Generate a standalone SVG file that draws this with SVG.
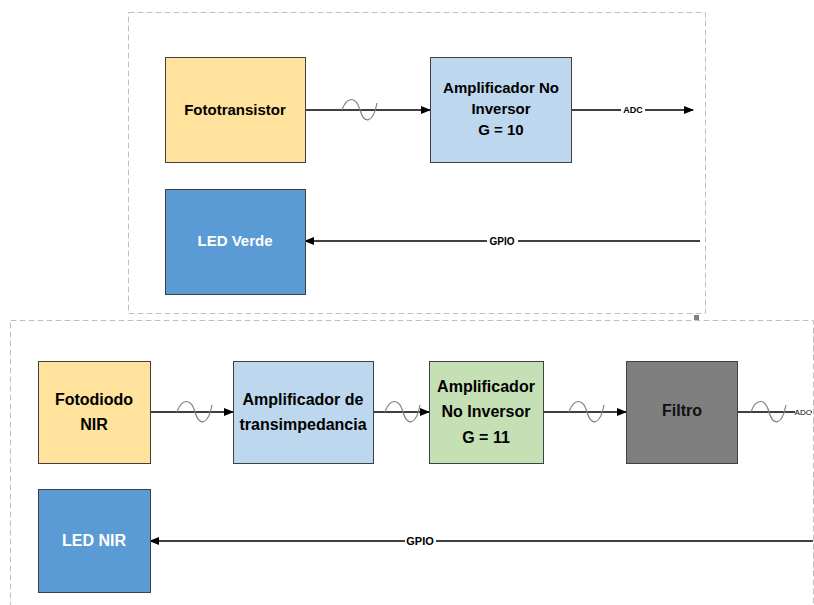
<svg xmlns="http://www.w3.org/2000/svg" width="814" height="605" viewBox="0 0 814 605">
<defs>
<marker id="ah" markerWidth="10" markerHeight="8" refX="9" refY="4" orient="auto" markerUnits="userSpaceOnUse">
<path d="M0,0 L10,4 L0,8 Z" fill="#000"/>
</marker>
<style>
.box{stroke:#404040;stroke-width:1}
.lbl{font-family:"Liberation Sans",Arial,sans-serif;font-weight:bold;text-anchor:middle}
.wire{stroke:#000;stroke-width:1.3;fill:none}
.sine{stroke:#7f7f7f;stroke-width:1.2;fill:none}
.frame{fill:none;stroke:#c0c0c0;stroke-width:1;stroke-dasharray:6 3}
.tag{font-family:"Liberation Sans",Arial,sans-serif;text-anchor:middle}
</style>
</defs>
<rect width="814" height="605" fill="#fff"/>
<rect class="frame" x="128.5" y="12.5" width="577" height="301"/>
<rect class="frame" x="10.5" y="320.5" width="803" height="290"/>
<rect x="694" y="315" width="5" height="5" fill="#808080"/>

<g id="connectors">
<line class="wire" x1="305" y1="110" x2="430" y2="110" marker-end="url(#ah)"/>
<path class="sine" d="M342,110 C347,96 356,96 360,110 C364,124 373,124 377,103"/>
<line class="wire" x1="571" y1="110" x2="693" y2="110" marker-end="url(#ah)"/>
<rect x="621" y="104" width="24" height="11" fill="#fff"/>
<text class="tag" x="633" y="113" font-size="9" font-weight="bold">ADC</text>
<line class="wire" x1="700" y1="241" x2="305" y2="241" marker-end="url(#ah)"/>
<rect x="487" y="235" width="31" height="12" fill="#fff"/>
<text class="tag" x="502" y="245" font-size="10" font-weight="bold">GPIO</text>

<line class="wire" x1="150" y1="412" x2="233" y2="412" marker-end="url(#ah)"/>
<path class="sine" d="M177,412 C182,398 191,398 195,412 C199,426 208,426 212,405"/>
<line class="wire" x1="373" y1="412" x2="429" y2="412" marker-end="url(#ah)"/>
<path class="sine" d="M385,412 C390,398 399,398 403,412 C407,426 416,426 420,405"/>
<line class="wire" x1="543" y1="412" x2="626" y2="412" marker-end="url(#ah)"/>
<path class="sine" d="M569,412 C574,398 583,398 587,412 C591,426 600,426 604,405"/>
<line class="wire" x1="737" y1="412" x2="812" y2="412"/>
<path class="sine" d="M751,412 C756,398 765,398 769,412 C773,426 782,426 786,405"/>
<rect x="795" y="406" width="16" height="11" fill="#fff"/>
<text class="tag" x="803" y="415" font-size="8" style="text-anchor:middle">ADC</text>
<line class="wire" x1="813" y1="541" x2="150" y2="541" marker-end="url(#ah)"/>
<rect x="405" y="534" width="31" height="14" fill="#fff"/>
<text class="tag" x="420" y="545" font-size="11" font-weight="bold">GPIO</text>
</g>

<g id="fototransistor">
<rect class="box" x="165.5" y="57.5" width="140" height="105" fill="#FFE29B"/>
<text class="lbl" x="235" y="115" font-size="15">Fototransistor</text>
</g>
<g id="amp-no-inversor-10">
<rect class="box" x="430.5" y="57.5" width="141" height="105" fill="#BDD7EE"/>
<text class="lbl" x="501" y="93" font-size="15">Amplificador No</text>
<text class="lbl" x="501" y="114" font-size="15">Inversor</text>
<text class="lbl" x="501" y="135" font-size="15">G = 10</text>
</g>
<g id="led-verde">
<rect class="box" x="165.5" y="189.5" width="140" height="105" fill="#5B9BD5"/>
<text class="lbl" x="235" y="246" font-size="15" fill="#fff">LED Verde</text>
</g>

<g id="fotodiodo-nir">
<rect class="box" x="38.5" y="361.5" width="112" height="102" fill="#FFE29B"/>
<text class="lbl" x="94" y="405" font-size="16">Fotodiodo</text>
<text class="lbl" x="94" y="430" font-size="16">NIR</text>
</g>
<g id="amp-transimpedancia">
<rect class="box" x="233.5" y="361.5" width="140" height="102" fill="#BDD7EE"/>
<text class="lbl" x="303" y="405" font-size="16">Amplificador de</text>
<text class="lbl" x="303" y="430" font-size="16">transimpedancia</text>
</g>
<g id="amp-no-inversor-11">
<rect class="box" x="429.5" y="361.5" width="114" height="102" fill="#C5E0B4"/>
<text class="lbl" x="486" y="392" font-size="16">Amplificador</text>
<text class="lbl" x="486" y="417" font-size="16">No Inversor</text>
<text class="lbl" x="486" y="443" font-size="16">G = 11</text>
</g>
<g id="filtro">
<rect class="box" x="626.5" y="361.5" width="111" height="102" fill="#7F7F7F"/>
<text class="lbl" x="682" y="416" font-size="16" fill="#111">Filtro</text>
</g>
<g id="led-nir">
<rect class="box" x="38.5" y="489.5" width="112" height="103" fill="#5B9BD5"/>
<text class="lbl" x="94" y="546" font-size="16" fill="#fff">LED NIR</text>
</g>
</svg>
